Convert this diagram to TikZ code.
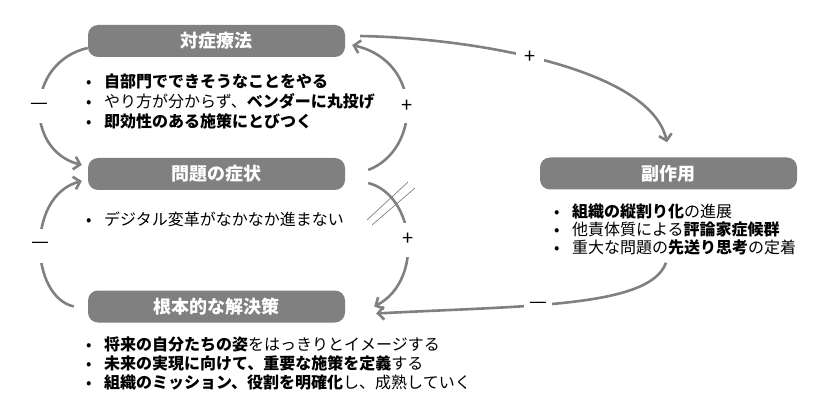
\documentclass[tikz,border=0pt]{standalone}
\usepackage{fontspec}
\setmainfont{Noto Sans CJK JP}
\usetikzlibrary{arrows.meta}

\newcommand{\bul}{\makebox[18pt][l]{•}}

\begin{document}
\begin{tikzpicture}[x=1pt,y=-1pt,
	box/.style={fill=gray, rounded corners=10pt, minimum width=257pt, minimum height=32pt, inner sep=0pt, text=white, font=\fontsize{18}{20}\selectfont\bfseries},
	items/.style={anchor=north west, align=left, inner sep=0pt},
	link/.style={draw=gray, line width=2.6pt, -{Straight Barb[length=6pt,width=13pt]}},
	sign/.style={fill=white, inner sep=0pt, font=\fontsize{20}{20}\selectfont}]
	\useasboundingbox (0,0) rectangle (816,406);

	\node[box] (taisho) at (216.5,41) {対症療法};
	\node[box] (shojo) at (216.5,174) {問題の症状};
	\node[box] (kompon) at (216.5,306.5) {根本的な解決策};
	\node[box] (fukusayo) at (668.5,173.5) {副作用};

	\node[items, font=\fontsize{16}{20}\selectfont] (taishoList) at (86,74) {\bul\textbf{自部門でできそうなことをやる}\\ \bul やり方が分からず、\textbf{ベンダーに丸投げ}\\ \bul\textbf{即効性のある施策にとびつく}};
	\node[items, font=\fontsize{16}{20}\selectfont] (shojoList) at (86,212) {\bul デジタル変革がなかなか進まない};
	\node[items, font=\fontsize{16}{19}\selectfont] (komponList) at (86,337) {\bul\textbf{将来の自分たちの姿}をはっきりとイメージする\\ \bul\textbf{未来の実現に向けて、重要な施策を定義}する\\ \bul\textbf{組織のミッション、役割を明確化}し、成熟していく};
	\node[items, font=\fontsize{16}{18}\selectfont] (fukusayoList) at (554,204) {\bul\textbf{組織の縦割り化}の進展\\ \bul 他責体質による\textbf{評論家症候群}\\ \bul 重大な問題の\textbf{先送り思考}の定着};

	\draw[link] ([yshift=-7pt]taisho.west) .. controls +(-62,14) and +(-58,-15) .. node[sign, minimum height=34pt] {—} ([xshift=-6pt,yshift=9pt]shojo.west);
	\draw[link] ([xshift=23pt,yshift=4pt]shojo.east) .. controls +(52,-20) and +(72,17) .. node[sign, minimum height=34pt] {+} ([xshift=7pt,yshift=-4pt]taisho.east);
	\draw[link] ([xshift=-14pt]kompon.west) .. controls +(-44,-10) and +(-56,15) .. node[sign, minimum height=34pt] {—} ([xshift=-6pt,yshift=-7pt]shojo.west);
	\draw[link] ([xshift=23pt,yshift=-9pt]shojo.east) .. controls +(47,12) and +(50,-26) .. node[sign, minimum height=34pt] {+} ([xshift=29pt]kompon.east);
	\draw[link] ([xshift=15pt,yshift=5pt]taisho.east) .. controls +(110,2) and +(-17,-75) .. node[sign, pos=0.45, minimum width=28pt] {+} ([xshift=-1.5pt,yshift=15pt]fukusayo.north);
	\draw[link] ([xshift=-2.5pt,yshift=-73pt]fukusayo.south) .. controls +(-16,45) and +(150,-8) .. node[sign, pos=0.6, minimum width=28pt] {—} ([xshift=31pt,yshift=-7pt]kompon.east);

	\draw[gray, line width=0.7pt] (367,220) -- (408,182) (372,225) -- (415,188);
\end{tikzpicture}
\end{document}
